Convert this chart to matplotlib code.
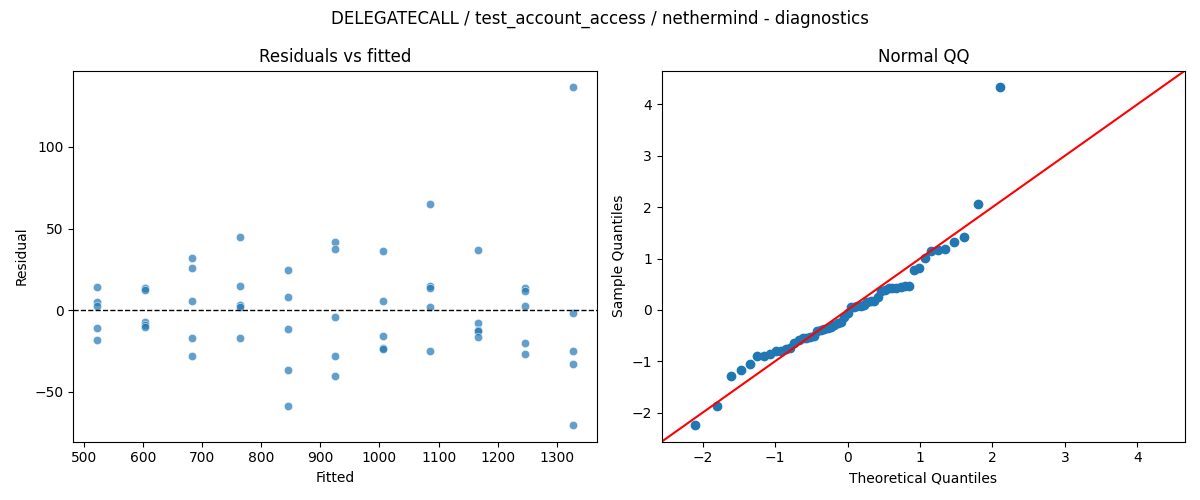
import numpy as np
import matplotlib
matplotlib.use("Agg")
import matplotlib.pyplot as plt
import seaborn as sns
from statistics import NormalDist

# Fitted levels and residuals (5 runs per level)
fitted_levels = [523, 603.5, 684, 764.5, 845, 925, 1005.5, 1086, 1166, 1246.5, 1327]
residual_groups = [
    [14.0, 5.0, 2.4, -11.2, -18.6],
    [13.3, 12.0, -7.3, -9.2, -10.6],
    [32.2, 25.5, 5.5, -17.3, -28.4],
    [44.5, 14.5, 3.1, 2.0, -17.3],
    [24.5, 7.8, -11.8, -36.9, -59.0],
    [42.0, 37.6, -4.5, -28.4, -40.4],
    [36.1, 5.5, -16.1, -23.3, -23.7],
    [64.9, 14.7, 13.3, 1.8, -25.3],
    [36.7, -8.2, -12.3, -13.0, -16.7],
    [13.5, 11.6, 2.4, -20.4, -26.9],
    [136.5, -2.0, -25.3, -33.3, -70.4],
]

title = "DELEGATECALL / test_account_access / nethermind - diagnostics"

fitted = np.repeat(fitted_levels, [len(g) for g in residual_groups]).astype(float)
resid = np.concatenate([np.array(g, float) for g in residual_groups])

fig, (ax1, ax2) = plt.subplots(1, 2, figsize=(12, 5), dpi=100)

# Residuals vs fitted
sns.scatterplot(x=fitted, y=resid, alpha=0.7, ax=ax1)
ax1.axhline(0, color="black", linestyle="--", linewidth=1)
ax1.set_xlabel("Fitted")
ax1.set_ylabel("Residual")
ax1.set_title("Residuals vs fitted")

# Normal QQ (standardized residuals vs normal quantiles, plotting position i/(n+1))
n = len(resid)
nd = NormalDist()
theo = np.array([nd.inv_cdf(i / (n + 1)) for i in range(1, n + 1)])
sample = np.sort((resid - resid.mean()) / resid.std())
ax2.set_xmargin(0.02)
ax2.plot(theo, sample, marker="o", markerfacecolor="C0", markeredgecolor="C0", linestyle="none")
xl, yl = ax2.get_xlim(), ax2.get_ylim()
lo, hi = min(xl[0], yl[0]), max(xl[1], yl[1])
ax2.plot([lo, hi], [lo, hi], "r-")
ax2.set_xlim(lo, hi)
ax2.set_ylim(lo, hi)
ax2.set_xlabel("Theoretical Quantiles")
ax2.set_ylabel("Sample Quantiles")
ax2.set_title("Normal QQ")

fig.suptitle(title)
fig.tight_layout()
fig.savefig("out.png")
